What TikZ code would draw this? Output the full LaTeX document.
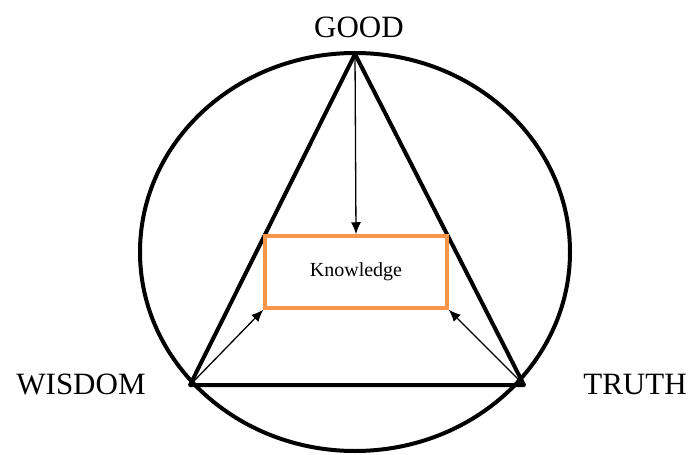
\documentclass[tikz,border=0pt]{standalone}
\usepackage{fontspec}
\setmainfont{Liberation Serif}
\usepackage{tikz}
\usetikzlibrary{arrows.meta, positioning, calc}
\definecolor{boxorange}{RGB}{247, 150, 70}
\tikzstyle{arrow} = [line width=1.3pt,-{Latex[length=12pt,width=10pt]}]
\tikzstyle{outline} = [line width=4pt, line join=round]
\tikzstyle{know} = [rectangle, draw=boxorange, line width=3.5pt, fill=white, minimum width=182pt, minimum height=72pt, font=\fontsize{20}{24}\selectfont]
\tikzstyle{label} = [font=\fontsize{31}{34}\selectfont]

\begin{document}
\begin{tikzpicture}[x=1pt, y=-1pt]
    \useasboundingbox (0,0) rectangle (691,455);
    % circle around the triangle
    \draw [outline] (355,252) ellipse [x radius=215, y radius=199];
    % triangle
    \coordinate (good) at (355,54);
    \coordinate (wisdom) at (190,385);
    \coordinate (truth) at (524,385);
    \draw [outline] (good) -- (wisdom) -- (truth) -- cycle;
    \node (knowledge) [know] at (356,272) {Knowledge};
    \node (goodlbl) [label] at (359,27) {GOOD};
    \node (wisdomlbl) [label] at (81,384) {WISDOM};
    \node (truthlbl) [label] at (635,384) {TRUTH};

    \draw [arrow] (good) -- (knowledge.north);
    \draw [arrow] ($(wisdom)+(2,-2)$) -- (knowledge.south west);
    \draw [arrow] ($(truth)+(-2,-2)$) -- (knowledge.south east);
\end{tikzpicture}
\end{document}
